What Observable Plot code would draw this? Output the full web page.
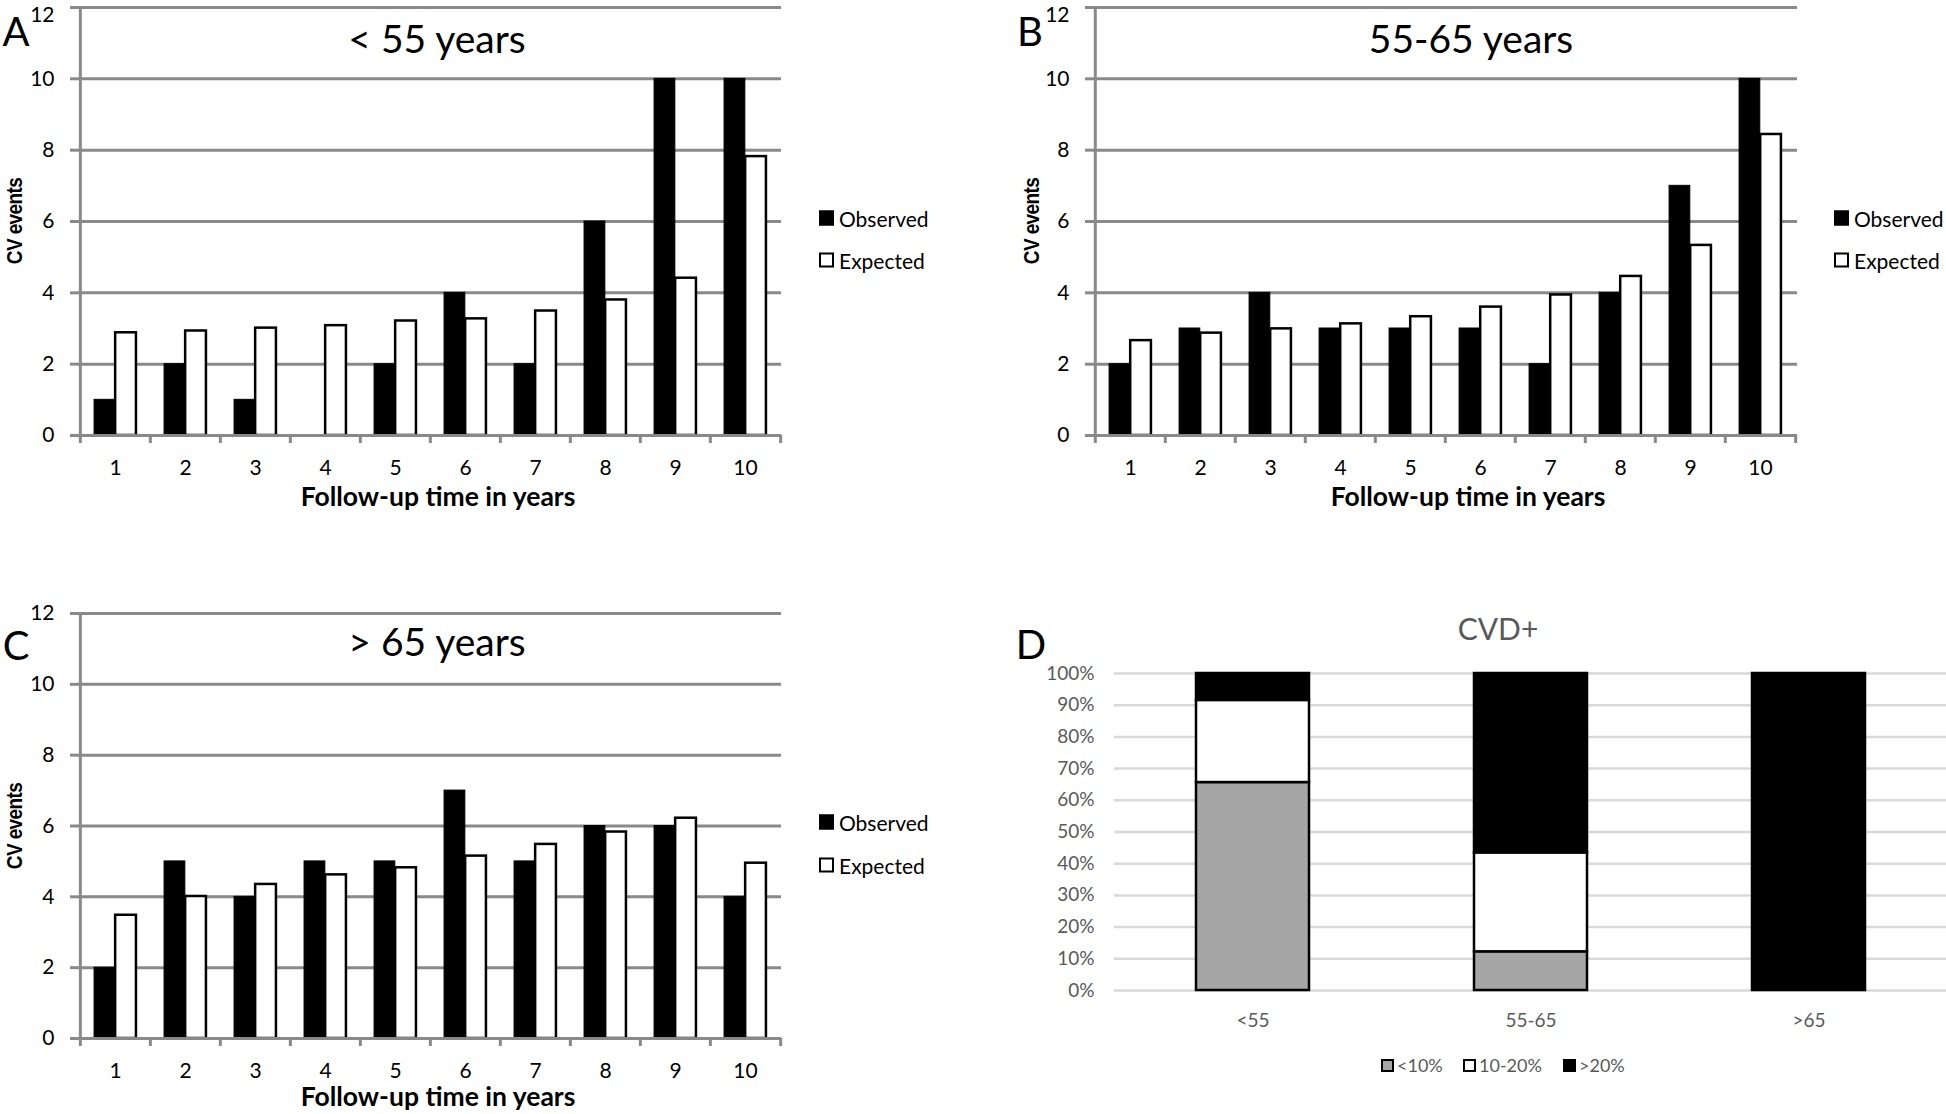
<!DOCTYPE html>
<html>
<head>
<meta charset="utf-8">
<script src="https://cdn.jsdelivr.net/npm/d3@7"></script>
<script src="https://cdn.jsdelivr.net/npm/@observablehq/plot@0.6"></script>
<style>
  html, body { margin: 0; padding: 0; background: #fff; }
  #root { position: relative; width: 1946px; height: 1114px; overflow: hidden; background: #fff; font-family: Lato, "Open Sans", sans-serif; }
  .abs { position: absolute; white-space: nowrap; }
  .panel { position: absolute; }
  .ctr { transform: translate(-50%, -50%); }
  .letter { font-size: 40px; color: #000; }
  .title { font-size: 39px; color: #000; }
  .xtitle { font-size: 26.5px; font-weight: 700; color: #000; }
  .ytitle { font-family: "Liberation Sans", Arial, sans-serif; font-size: 19px; font-weight: 700; color: #000; letter-spacing: -0.6px; line-height: 1; transform: translate(-50%, -50%) rotate(-90deg) scale(1, 1.2); }
  .leg { font-size: 21px; color: #000; display: flex; align-items: center; transform: translateY(-50%); }
  .sw { display: inline-block; box-sizing: border-box; width: 15px; height: 15px; border: 2.5px solid #000; margin-right: 5px; }
  .legD { font-size: 18px; color: #595959; display: flex; align-items: center; transform: translateY(-50%); }
  .legD .sw { width: 13px; height: 13px; margin-right: 3px; }
</style>
</head>
<body>
<div id="root"></div>
<script>
// ---------- Data ----------
const years = [1, 2, 3, 4, 5, 6, 7, 8, 9, 10];
const seriesNames = ["Observed", "Expected"];
const yTicks = [0, 2, 4, 6, 8, 10, 12];

// Panel A: < 55 years
const observedA = [1, 2, 1, 0, 2, 4, 2, 6, 10, 10];
const expectedA = [2.88, 2.93, 3.01, 3.08, 3.21, 3.27, 3.49, 3.80, 4.41, 7.82];
// Panel B: 55-65 years
const observedB = [2, 3, 4, 3, 3, 3, 2, 4, 7, 10];
const expectedB = [2.66, 2.87, 2.99, 3.13, 3.33, 3.60, 3.94, 4.46, 5.33, 8.44];
// Panel C: > 65 years
const observedC = [2, 5, 4, 5, 5, 7, 5, 6, 6, 4];
const expectedC = [3.48, 4.01, 4.35, 4.62, 4.82, 5.15, 5.48, 5.83, 6.22, 4.95];

// Panel D: CVD+
const ageGroups = ["<55", "55-65", ">65"];
const riskCats = ["<10%", "10-20%", ">20%"];
const riskLow = [65.6, 12.2, 0];
const riskMid = [25.9, 31.2, 0];
const riskHigh = [8.5, 56.6, 100];
const pctTicks = [0, 10, 20, 30, 40, 50, 60, 70, 80, 90, 100];

const panelTitles = ["< 55 years", "55-65 years", "> 65 years"];
const panelLetters = ["A", "B", "C", "D"];
const xTitle = "Follow-up time in years";
const yTitle = "CV events";
const dTitle = "CVD+";

// ---------- Helpers ----------
const root = document.getElementById("root");
const GRID = "#898989";

function addText(text, cls, x, y, extraStyle = "") {
  const d = document.createElement("div");
  d.className = "abs " + cls;
  d.textContent = text;
  d.style.cssText += `left:${x}px;top:${y}px;` + extraStyle;
  root.appendChild(d);
  return d;
}

function addLegendItem(label, fill, x, y, cls) {
  const d = document.createElement("div");
  d.className = "abs " + cls;
  d.style.left = x + "px";
  d.style.top = y + "px";
  const sw = document.createElement("span");
  sw.className = "sw";
  sw.style.background = fill;
  d.appendChild(sw);
  d.appendChild(document.createTextNode(label));
  root.appendChild(d);
}

function groupedPanel(obs, exp, box, topLabelShift) {
  const {left, top, width, height, marginLeft, marginRight, marginTop, marginBottom} = box;
  const data = years.flatMap((yr, i) => [
    {year: yr, series: seriesNames[0], value: obs[i]},
    {year: yr, series: seriesNames[1], value: exp[i]}
  ]);
  const bw = (width - marginLeft - marginRight) / years.length;
  const topTick = yTicks[yTicks.length - 1];
  const chart = Plot.plot({
    width, height, marginLeft, marginRight, marginTop, marginBottom,
    style: {fontFamily: "Lato, 'Open Sans', sans-serif", fontSize: "21px", background: "transparent", overflow: "visible"},
    x: {type: "band", domain: years, padding: 0, label: null},
    y: {domain: [0, 12], label: null},
    marks: [
      Plot.gridY(yTicks, {stroke: GRID, strokeOpacity: 1, strokeWidth: 3}),
      Plot.axisY(yTicks, {tickSize: 8, tickPadding: 16, stroke: GRID, strokeWidth: 3, fill: "none", label: null}),
      Plot.axisY(yTicks.filter(t => t !== topTick), {tickSize: 0, tickPadding: 24, fill: "#000", label: null}),
      Plot.axisY([topTick], {tickSize: 0, tickPadding: 24, fill: "#000", dy: topLabelShift, label: null}),
      Plot.ruleX([years[0]], {dx: -bw / 2, stroke: GRID, strokeWidth: 3}),
      Plot.barY(data.filter(d => d.series === seriesNames[0] && d.value > 0), {
        x: "year", y: "value", fill: "#000", stroke: "#000", strokeWidth: 1,
        insetLeft: bw * 0.2, insetRight: bw * 0.5
      }),
      Plot.barY(data.filter(d => d.series === seriesNames[1]), {
        x: "year", y: "value", fill: "#fff", stroke: "#000", strokeWidth: 2.5,
        insetLeft: bw * 0.5, insetRight: bw * 0.2
      }),
      Plot.ruleY([0], {stroke: GRID, strokeWidth: 3}),
      Plot.axisX(years, {tickSize: 8, stroke: GRID, strokeWidth: 3, fill: "none", dx: -bw / 2, label: null}),
      Plot.axisX([years[years.length - 1]], {tickSize: 8, stroke: GRID, strokeWidth: 3, fill: "none", dx: bw / 2, label: null}),
      Plot.axisX(years, {tickSize: 0, tickPadding: 25, fill: "#000", label: null})
    ]
  });
  const wrap = document.createElement("div");
  wrap.className = "panel";
  wrap.style.left = left + "px";
  wrap.style.top = top + "px";
  wrap.appendChild(chart);
  root.appendChild(wrap);
}

// ---------- Panels A, B, C ----------
groupedPanel(observedA, expectedA, {left: 0, top: 0, width: 800, height: 520, marginLeft: 78, marginRight: 19, marginTop: 7, marginBottom: 85}, 8);
groupedPanel(observedB, expectedB, {left: 990, top: 0, width: 820, height: 520, marginLeft: 103, marginRight: 13, marginTop: 7, marginBottom: 85}, 8);
groupedPanel(observedC, expectedC, {left: 0, top: 600, width: 800, height: 514, marginLeft: 78, marginRight: 19, marginTop: 13, marginBottom: 76}, 0);

// Titles and labels
addText(panelLetters[0], "letter ctr", 16, 31);
addText(panelLetters[1], "letter ctr", 1030, 31);
addText(panelLetters[2], "letter ctr", 16, 645);
addText(panelLetters[3], "letter ctr", 1031, 644);

addText(panelTitles[0], "title ctr", 437, 38);
addText(panelTitles[1], "title ctr", 1471, 38);
addText(panelTitles[2], "title ctr", 437, 641);

addText(xTitle, "xtitle ctr", 438, 496);
addText(xTitle, "xtitle ctr", 1468, 496);
addText(xTitle, "xtitle ctr", 438, 1096);

addText(yTitle, "ytitle", 14, 221);
addText(yTitle, "ytitle", 1031, 221);
addText(yTitle, "ytitle", 14, 826);

// Legends A, B, C
addLegendItem(seriesNames[0], "#000", 819, 218, "leg");
addLegendItem(seriesNames[1], "#fff", 819, 260, "leg");
addLegendItem(seriesNames[0], "#000", 1834, 218, "leg");
addLegendItem(seriesNames[1], "#fff", 1834, 260, "leg");
addLegendItem(seriesNames[0], "#000", 819, 822, "leg");
addLegendItem(seriesNames[1], "#fff", 819, 865, "leg");

// ---------- Panel D ----------
const riskValues = [riskLow, riskMid, riskHigh];
const dataD = ageGroups.flatMap((g, i) => riskCats.map((r, j) => ({group: g, risk: r, value: riskValues[j][i]}))).filter(d => d.value > 0);
const riskColors = ["#a6a6a6", "#ffffff", "#000000"];

const chartD = Plot.plot({
  width: 956, height: 514,
  marginLeft: 124, marginRight: 0, marginTop: 73, marginBottom: 124,
  style: {fontFamily: "Lato, 'Open Sans', sans-serif", fontSize: "19px", background: "transparent", overflow: "visible"},
  x: {type: "band", domain: ageGroups, paddingInner: 0.594, paddingOuter: 0.293, label: null},
  y: {domain: [0, 100], label: null},
  color: {domain: riskCats, range: riskColors},
  marks: [
    Plot.gridY(pctTicks, {stroke: "#d9d9d9", strokeOpacity: 1, strokeWidth: 2.5}),
    Plot.axisY(pctTicks, {tickSize: 0, tickPadding: 20, fill: "#595959", tickFormat: d => d + "%", label: null}),
    Plot.axisX(ageGroups, {tickSize: 0, tickPadding: 23, fill: "#595959", label: null}),
    Plot.barY(dataD, {x: "group", y: "value", fill: "risk", order: riskCats, stroke: "#000", strokeWidth: 2.5})
  ]
});
const wrapD = document.createElement("div");
wrapD.className = "panel";
wrapD.style.left = "990px";
wrapD.style.top = "600px";
wrapD.appendChild(chartD);
root.appendChild(wrapD);

addText(dTitle, "ctr", 1498, 628, "font-size:30px;color:#595959;");
addLegendItem(riskCats[0], riskColors[0], 1381, 1065, "legD");
addLegendItem(riskCats[1], riskColors[1], 1463, 1065, "legD");
addLegendItem(riskCats[2], riskColors[2], 1563, 1065, "legD");
</script>
</body>
</html>
